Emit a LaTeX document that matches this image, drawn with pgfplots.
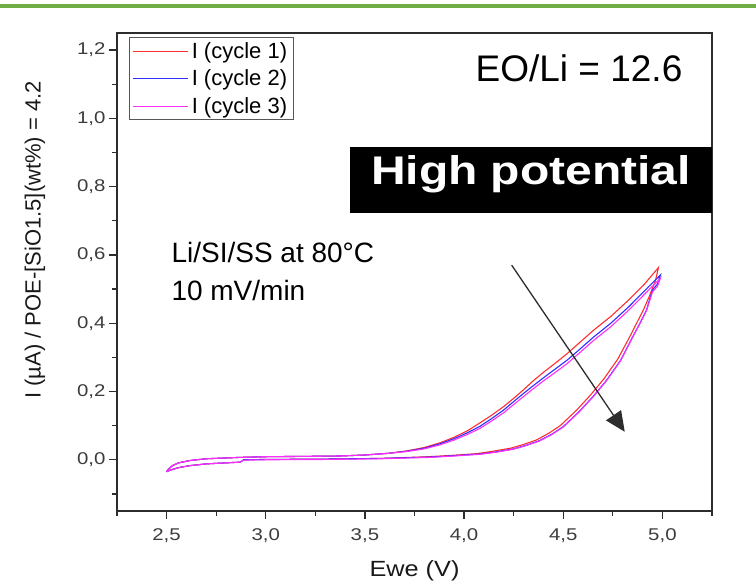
\documentclass[border=0pt]{standalone}
\usepackage{fontspec}
\setmainfont{Liberation Sans}
\usepackage{pgfplots}
\pgfplotsset{compat=1.18}
\usetikzlibrary{arrows.meta}
\definecolor{topgreen}{RGB}{112,173,71}
\definecolor{cred}{RGB}{255,45,45}
\definecolor{cblue}{RGB}{45,45,255}
\definecolor{cmag}{RGB}{255,45,255}
\definecolor{axgray}{RGB}{45,45,45}
\definecolor{tickgray}{RGB}{60,60,60}
\newcommand{\fs}[1]{\fontsize{#1}{#1}\selectfont}

\begin{document}
\begin{tikzpicture}[x=1pt,y=1pt]
\path[use as bounding box] (0,0) rectangle (756,585);
\fill[topgreen] (0,576.5) rectangle (756,581);
\begin{axis}[
  at={(117pt,74pt)}, anchor=south west,
  width=595pt, height=478pt, scale only axis,
  xmin=2.25, xmax=5.25, ymin=-0.15, ymax=1.25,
  xtick={2.5,3.0,3.5,4.0,4.5,5.0},
  ytick={0,0.2,0.4,0.6,0.8,1.0,1.2},
  minor xtick={2.25,2.75,3.25,3.75,4.25,4.75,5.25},
  minor ytick={-0.1,0.1,0.3,0.5,0.7,0.9,1.1},
  tick align=outside, tick pos=left,
  major tick length=8pt, minor tick length=5pt,
  every tick/.style={axgray, line width=1.2pt},
  axis line style={axgray, line width=1.4pt},
  /pgf/number format/assume math mode=true,
  xticklabel={\scalebox{1.2}[1]{\pgfmathprintnumber[use comma,fixed,fixed zerofill,precision=1]{\tick}}},
  yticklabel={\scalebox{1.2}[1]{\pgfmathprintnumber[use comma,fixed,fixed zerofill,precision=1]{\tick}}},
  tick label style={font=\fs{17}, text=tickgray},
  xticklabel style={yshift=-6pt},
  xlabel={\scalebox{1.15}[1]{Ewe (V)}},
  xlabel style={font=\fs{22}, text=black!90, at={(axis description cs:0.5,0)}, anchor=center, yshift=-60pt},
  ylabel={I (µA) / POE-[SiO1.5](wt\%) = 4.2},
  ylabel style={font=\fs{22}, text=black!90, at={(axis description cs:-0.138,0.567)}, anchor=center},
  legend style={at={(axis description cs:0.0202,0.9916)}, anchor=north west,
    draw=axgray!80, line width=1.1pt, fill=white, font=\fs{22},
    inner xsep=3pt, inner ysep=2pt, row sep=4pt,
    nodes={inner sep=3pt}},
  legend cell align=left,
  legend image code/.code={\draw[#1, line width=1.2pt] (0pt,0pt) -- (55pt,0pt);},
]
% cycle 1
\addplot[cred, line width=1.1pt] coordinates {
(2.50,-0.035) (2.51,-0.027) (2.53,-0.017) (2.56,-0.009) (2.62,-0.002) (2.70,0.003) (2.87,0.007) (3.00,0.009) (3.20,0.010) (3.37,0.011) (3.50,0.014) (3.62,0.019)
(3.71,0.026) (3.80,0.036) (3.88,0.050) (3.95,0.066) (4.02,0.086) (4.08,0.108) (4.14,0.131) (4.20,0.156) (4.25,0.180) (4.30,0.205) (4.35,0.232) (4.40,0.256) (4.46,0.283) (4.52,0.311) (4.58,0.342) (4.65,0.378) (4.74,0.420) (4.83,0.468) (4.91,0.515) (4.98,0.563)
(4.965,0.525) (4.935,0.480) (4.905,0.440) (4.87,0.400) (4.835,0.360) (4.775,0.295) (4.705,0.237) (4.635,0.188) (4.565,0.144) (4.485,0.100) (4.425,0.077) (4.365,0.058) (4.295,0.044) (4.235,0.034) (4.145,0.025) (4.065,0.018) (3.94,0.013) (3.82,0.009) (3.58,0.004) (3.30,0.002) (3.00,0.001) (2.89,0.000) (2.87,-0.007) (2.80,-0.009) (2.70,-0.012) (2.62,-0.017) (2.56,-0.023) (2.52,-0.030) (2.50,-0.035)
};
\addlegendentry{I (cycle 1)}
% cycle 2
\addplot[cblue, line width=1.1pt] coordinates {
(2.50,-0.035) (2.51,-0.027) (2.53,-0.017) (2.56,-0.009) (2.62,-0.002) (2.70,0.003) (2.87,0.007) (3.00,0.009) (3.20,0.010) (3.37,0.011) (3.50,0.014) (3.62,0.019)
(3.71,0.025) (3.80,0.034) (3.88,0.047) (3.95,0.062) (4.02,0.080) (4.08,0.098) (4.14,0.121) (4.20,0.146) (4.28,0.185) (4.34,0.213) (4.40,0.240) (4.46,0.266) (4.52,0.292) (4.58,0.322) (4.65,0.358) (4.74,0.400) (4.83,0.448) (4.91,0.495) (4.99,0.541)
(4.975,0.515) (4.95,0.497) (4.92,0.439) (4.885,0.398) (4.85,0.360) (4.79,0.292) (4.72,0.234) (4.65,0.185) (4.58,0.141) (4.50,0.097) (4.44,0.074) (4.38,0.056) (4.31,0.042) (4.25,0.032) (4.16,0.023) (4.08,0.017) (3.95,0.012) (3.83,0.008) (3.58,0.004) (3.30,0.002) (3.00,0.001) (2.89,0.000) (2.87,-0.007) (2.80,-0.009) (2.70,-0.012) (2.62,-0.017) (2.56,-0.023) (2.52,-0.030) (2.50,-0.035)
};
\addlegendentry{I (cycle 2)}
% cycle 3
\addplot[cmag, line width=1.1pt] coordinates {
(2.50,-0.035) (2.51,-0.027) (2.53,-0.017) (2.56,-0.009) (2.62,-0.002) (2.70,0.003) (2.87,0.007) (3.00,0.009) (3.20,0.010) (3.37,0.011) (3.50,0.014) (3.62,0.019)
(3.71,0.024) (3.80,0.032) (3.88,0.044) (3.95,0.058) (4.02,0.075) (4.08,0.092) (4.14,0.114) (4.20,0.138) (4.28,0.176) (4.34,0.204) (4.40,0.231) (4.46,0.256) (4.52,0.282) (4.58,0.312) (4.65,0.348) (4.74,0.390) (4.83,0.438) (4.91,0.485) (4.99,0.532)
(4.975,0.508) (4.95,0.492) (4.92,0.437) (4.885,0.397) (4.85,0.359) (4.79,0.291) (4.72,0.233) (4.65,0.184) (4.58,0.140) (4.50,0.096) (4.44,0.073) (4.38,0.055) (4.31,0.041) (4.25,0.031) (4.16,0.022) (4.08,0.016) (3.95,0.011) (3.83,0.007) (3.58,0.003) (3.30,0.001) (3.00,0.000) (2.89,-0.001) (2.87,-0.007) (2.80,-0.009) (2.70,-0.012) (2.62,-0.017) (2.56,-0.023) (2.52,-0.030) (2.50,-0.035)
};
\addlegendentry{I (cycle 3)}
\draw[-{Triangle[length=20pt,width=18pt]}, line width=1.3pt, color=axgray] (axis cs:4.24,0.57) -- (axis cs:4.81,0.082);
\end{axis}
\node[anchor=base, font=\fs{37}] at (579,503.3) {EO/Li = 12.6};
\fill[black] (350,372) rectangle (712,438);
\node[anchor=base, font=\fs{40}\bfseries, text=white] at (531,400) {\scalebox{1.2}[1]{High potential}};
\node[anchor=base west, font=\fs{28}] at (168,322) {Li/SI/SS at 80°C};
\node[anchor=base west, font=\fs{28}] at (168,284) {10 mV/min};
\end{tikzpicture}
\end{document}
